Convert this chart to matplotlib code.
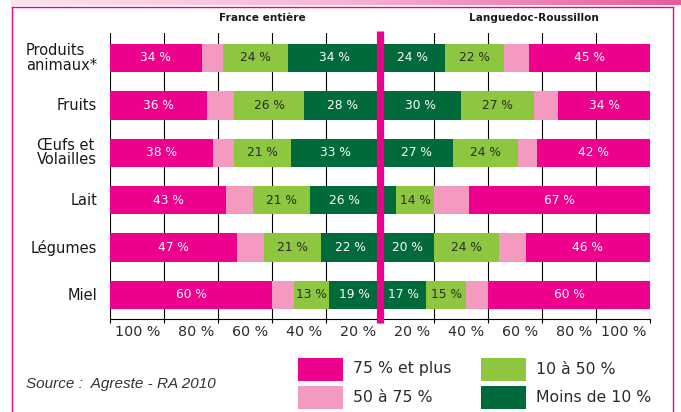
import matplotlib
matplotlib.use("Agg")
import matplotlib.pyplot as plt
import numpy as np
from matplotlib.patches import Rectangle
from matplotlib.lines import Line2D
from matplotlib.colors import LinearSegmentedColormap

# ---------------- data ----------------
categories = ["Produits\nanimaux*", "Fruits", "Œufs et\nVolailles", "Lait", "Légumes", "Miel"]
series_names = ["Moins de 10 %", "10 à 50 %", "50 à 75 %", "75 % et plus"]
series_colors = ["#006A3A", "#8DC63F", "#F49AC1", "#EC008C"]
label_colors = ["white", "#2b2b2b", None, "white"]

france_moins10 = [34, 28, 33, 26, 22, 19]
france_10_50 = [24, 26, 21, 21, 21, 13]
france_50_75 = [8, 10, 8, 10, 10, 8]
france_75plus = [34, 36, 38, 43, 47, 60]

lr_moins10 = [24, 30, 27, 6, 20, 17]
lr_10_50 = [22, 27, 24, 14, 24, 15]
lr_50_75 = [9, 9, 7, 13, 10, 8]
lr_75plus = [45, 34, 42, 67, 46, 60]

tick_values = [100, 80, 60, 40, 20]
panel_titles = ["France entière", "Languedoc-Roussillon"]
source_text = "Source :  Agreste - RA 2010"

france = [france_moins10, france_10_50, france_50_75, france_75plus]
lr = [lr_moins10, lr_10_50, lr_50_75, lr_75plus]

# ---------------- figure ----------------
W, H = 681, 412
fig = plt.figure(figsize=(W / 100, H / 100), dpi=100)
fig.patch.set_facecolor("white")

def fx(px):
    return px / W

def fy(py):
    return 1 - py / H

ax_left, ax_right, ax_top, ax_bot = 110, 650, 33, 319
ax = fig.add_axes([fx(ax_left), fy(ax_bot), (ax_right - ax_left) / W, (ax_bot - ax_top) / H])

y = np.arange(len(categories))
bar_h = 0.6

for side, data in ((-1, france), (1, lr)):
    cum = np.zeros(len(categories))
    for k, vals in enumerate(data):
        vals = np.array(vals, dtype=float)
        ax.barh(y, side * vals, left=side * cum, height=bar_h,
                color=series_colors[k], edgecolor="none", zorder=3)
        if label_colors[k] is not None:
            for i, v in enumerate(vals):
                if v >= 10:
                    xc = side * (cum[i] + v / 2)
                    ax.text(xc, y[i], f"{int(v)} %", ha="center", va="center",
                            fontsize=8.8, color=label_colors[k], zorder=4)
        cum += vals

ax.set_xlim(-100, 100)
ylim_top = (ax_top - 58) / 47.4
ylim_bot = (ax_bot - 58) / 47.4
ax.set_ylim(ylim_bot, ylim_top)

xt = [-v for v in tick_values] + [0] + tick_values[::-1]
ax.set_xticks(xt)
ax.set_xticklabels([])
ax.set_yticks([])
ax.tick_params(axis="x", direction="out", length=3, width=0.8, color="black")
ax.grid(axis="x", color="black", linewidth=0.8)
ax.set_axisbelow(True)
for s in ["top", "left", "right"]:
    ax.spines[s].set_visible(False)
ax.spines["bottom"].set_linewidth(0.8)
ax.spines["bottom"].set_color("black")

# tick labels
xf = ax.get_xaxis_transform()
lab_y = -(332 - ax_bot) / (ax_bot - ax_top)
for v in tick_values:
    ax.text(-(v - 20) - 1.5, lab_y, f"{v} %", transform=xf, ha="right", va="center",
            fontsize=10.3, color="#2b2b2b", clip_on=False)
    ax.text(v - 1.5, lab_y, f"{v} %", transform=xf, ha="right", va="center",
            fontsize=10.3, color="#2b2b2b", clip_on=False)

# center magenta line
c0 = (31 - 58) / 47.4
c1 = (323 - 58) / 47.4
ax.plot([0, 0], [c0, c1], color="#EC008C", lw=5.2, solid_capstyle="butt",
        zorder=6, clip_on=False)

# category labels
yt = ax.get_yaxis_transform()
for i, c in enumerate(categories):
    ax.text(-(ax_left - 97) / (ax_right - ax_left), y[i], c, transform=yt,
            ha="right", va="center", multialignment="left", fontsize=10.5,
            color="#1a1a1a", linespacing=0.95)

# panel titles
fig.text(fx(262), fy(18), panel_titles[0], ha="center", va="center",
         fontsize=7.6, fontweight="bold", color="#1a1a1a")
fig.text(fx(534), fy(18), panel_titles[1], ha="center", va="center",
         fontsize=7.6, fontweight="bold", color="#1a1a1a")

# legend
leg_order = [3, 2, 1, 0]
leg_pos = [(298, 358), (298, 386), (481, 358), (481, 386)]
for k, (px, py) in zip(leg_order, leg_pos):
    fig.patches.append(Rectangle((fx(px), fy(py + 23)), 45 / W, 23 / H,
                                 transform=fig.transFigure, facecolor=series_colors[k],
                                 edgecolor="none"))
    fig.text(fx(px + 55), fy(py + 11), series_names[k], ha="left", va="center",
             fontsize=11.3, color="#2b2b2b")

# source
fig.text(fx(26), fy(384), source_text, ha="left", va="center", fontsize=11,
         style="italic", family="Liberation Sans", color="#333333")

# frame
band = fig.add_axes([fx(11), fy(5.5), (W - 11) / W, 5.5 / H])
cmap = LinearSegmentedColormap.from_list("band", ["#FCE3EE", "#F6B4D2", "#E95A9C"])
band.imshow(np.linspace(0, 1, 256)[None, :], aspect="auto", cmap=cmap)
band.axis("off")

fl = dict(color="#EC008C", lw=1.0, transform=fig.transFigure)
fig.lines.append(Line2D([fx(11.5), fx(11.5)], [fy(7), 0], **fl))
fig.lines.append(Line2D([fx(11.5), fx(673)], [fy(7), fy(7)], **fl))
fig.lines.append(Line2D([fx(673), fx(673)], [fy(7), 0], **fl))

fig.savefig("out.png", dpi=100, facecolor="white")
